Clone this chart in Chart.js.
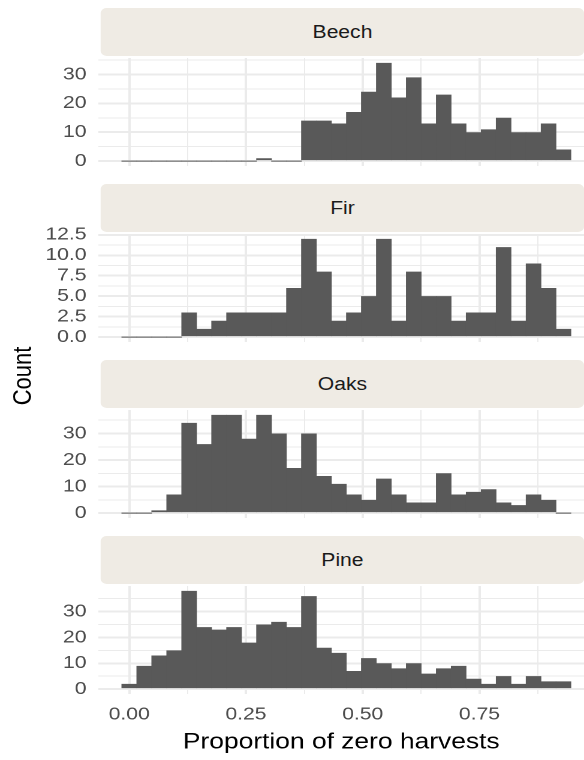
<!DOCTYPE html>
<html><head><meta charset="utf-8">
<script src="https://cdn.jsdelivr.net/npm/chart.js@4/dist/chart.umd.min.js"></script>
<style>
html,body{margin:0;padding:0;background:#fff;overflow:hidden;width:584px;height:760px;}
#wrap{position:absolute;left:0;top:0;width:487px;height:760px;transform:scaleX(1.1992);transform-origin:0 0;font-family:"Liberation Sans",Arial,sans-serif;}
.strip{position:absolute;left:84.2px;width:402.8px;height:48px;background:#EFEBE4;border-radius:5px;color:#1A1A1A;font-size:17.6px;line-height:48px;text-align:center;}
canvas{position:absolute;left:0;}
#ylab{position:absolute;left:19.2px;top:376px;transform:translate(-50%,-50%) rotate(-90deg);font-size:22px;color:#000;white-space:nowrap;}
</style></head>
<body>
<div id="wrap">
  <div id="ylab">Count</div>
</div>
<script>
// ---- data ----
const binCenters = [0,0.0321,0.0641,0.0962,0.1283,0.1604,0.1924,0.2245,0.2566,0.2886,
  0.3207,0.3528,0.3848,0.4169,0.4490,0.4811,0.5131,0.5452,0.5773,0.6093,
  0.6414,0.6735,0.7055,0.7376,0.7697,0.8018,0.8338,0.8659,0.8980,0.9300];
const facetNames = ['Beech','Fir','Oaks','Pine'];
const beech = [0,0,0,0,0,0,0,0,0,1,0,0,14,14,13,17,24,34,22,29,13,23,13,10,11,15,10,10,13,4];
const fir   = [0,0,0,0,3,1,2,3,3,3,3,6,12,8,2,3,5,12,2,8,5,5,2,3,3,11,2,9,6,1];
const oaks  = [0,0,1,7,34,26,37,37,28,37,30,17,30,14,11,7,5,13,7,4,4,15,7,8,9,4,3,7,5,0];
const pine  = [2,9,13,15,38,24,23,24,18,25,26,24,36,16,14,7,12,10,8,10,6,8,9,4,2,5,2,5,3,3];
const xMajor = [0,0.25,0.5,0.75];
const xMinor = [0.125,0.375,0.625,0.875];
const xTickLabels = ['0.00','0.25','0.50','0.75'];
const yMajorCounts = [0,10,20,30];
const yMinorCounts = [5,15,25,35];
const yLabelsCounts = ['0','10','20','30'];
const yMajorFir = [0,2.5,5,7.5,10,12.5];
const yMinorFir = [1.25,3.75,6.25,8.75,11.25];
const yLabelsFir = ['0.0','2.5','5.0','7.5','10.0','12.5'];
const xTitle = 'Proportion of zero harvests';

const panels = [
  {name:facetNames[0], values:beech, major:yMajorCounts, minor:yMinorCounts, labels:yLabelsCounts},
  {name:facetNames[1], values:fir,   major:yMajorFir,    minor:yMinorFir,    labels:yLabelsFir},
  {name:facetNames[2], values:oaks,  major:yMajorCounts, minor:yMinorCounts, labels:yLabelsCounts},
  {name:facetNames[3], values:pine,  major:yMajorCounts, minor:yMinorCounts, labels:yLabelsCounts}
];

// ---- layout ----
const W = 487;
const plotTops = [58,234,410,586];
const plotH = 108;
const M = 14; // canvas margin so edge labels are not clipped
const yAxisW = 82.1;
const XMIN = -0.0659, XMAX = 0.974;
const tickFont = {family:'Liberation Sans', size:17.6};
const tickColor = '#4D4D4D';
const gridColor = '#EBEBEB';

const wrap = document.getElementById('wrap');
Chart.defaults.font.family = 'Liberation Sans';

panels.forEach((p, k) => {
  const isBottom = k === panels.length - 1;
  const strip = document.createElement('div');
  strip.className = 'strip';
  strip.style.top = (plotTops[k] - 50) + 'px';
  strip.textContent = p.name;
  wrap.appendChild(strip);

  const h = isBottom ? 760 - plotTops[k] + M : plotH + 2 * M;
  const cv = document.createElement('canvas');
  cv.width = W; cv.height = h;
  cv.style.width = W + 'px'; cv.style.height = h + 'px';
  cv.style.top = (plotTops[k] - M) + 'px';
  wrap.appendChild(cv);

  const vmax = Math.max(...p.values);
  const ymin = -0.05 * vmax, ymax = 1.05 * vmax;
  const yTicks = [...p.major, ...p.minor].filter(v => v >= ymin && v <= ymax).sort((a,b)=>a-b);
  const xTicks = [...xMajor, ...xMinor].sort((a,b)=>a-b);

  new Chart(cv, {
    type: 'bar',
    data: {
      datasets: [{
        data: binCenters.map((x, i) => ({x: x, y: p.values[i]})),
        backgroundColor: '#595959',
        borderWidth: 0,
        barPercentage: 1.04,
        categoryPercentage: 1,
        minBarLength: 1
      }]
    },
    options: {
      responsive: false,
      animation: false,
      devicePixelRatio: 2,
      layout: {padding: {top: M, bottom: isBottom ? 0 : M, left: 0, right: 0}},
      plugins: {legend: {display: false}, tooltip: {enabled: false}},
      scales: {
        x: {
          type: 'linear', min: XMIN, max: XMAX, offset: false,
          afterBuildTicks: s => { s.ticks = xTicks.map(v => ({value: v})); },
          afterFit: s => { s.height = isBottom ? 760 - plotTops[k] - plotH : 0; s.paddingLeft = 0; s.paddingRight = 0; },
          grid: {color: gridColor, offset: false, drawTicks: false,
                 lineWidth: c => (c.tick && xMajor.includes(c.tick.value)) ? 2 : 1},
          border: {display: false},
          ticks: {
            display: isBottom, autoSkip: false, maxRotation: 0, padding: 10,
            font: tickFont, color: tickColor,
            callback: v => { const i = xMajor.indexOf(v); return i >= 0 ? xTickLabels[i] : ''; }
          },
          title: {display: isBottom, text: xTitle, color: '#000',
                  font: {family:'Liberation Sans', size: 22, lineHeight: 1.2},
                  padding: {top: 0, bottom: 4.5}}
        },
        y: {
          min: ymin, max: ymax,
          afterBuildTicks: s => { s.ticks = yTicks.map(v => ({value: v})); },
          afterFit: s => { s.width = yAxisW; s.paddingTop = 0; s.paddingBottom = 0; },
          grid: {color: gridColor, drawTicks: false,
                 lineWidth: c => (c.tick && p.major.includes(c.tick.value)) ? 2 : 1},
          border: {display: false},
          ticks: {
            autoSkip: false, padding: 10, font: tickFont, color: tickColor,
            callback: v => { const i = p.major.indexOf(v); return i >= 0 ? p.labels[i] : ''; }
          }
        }
      }
    }
  });
});
</script>
</body></html>
